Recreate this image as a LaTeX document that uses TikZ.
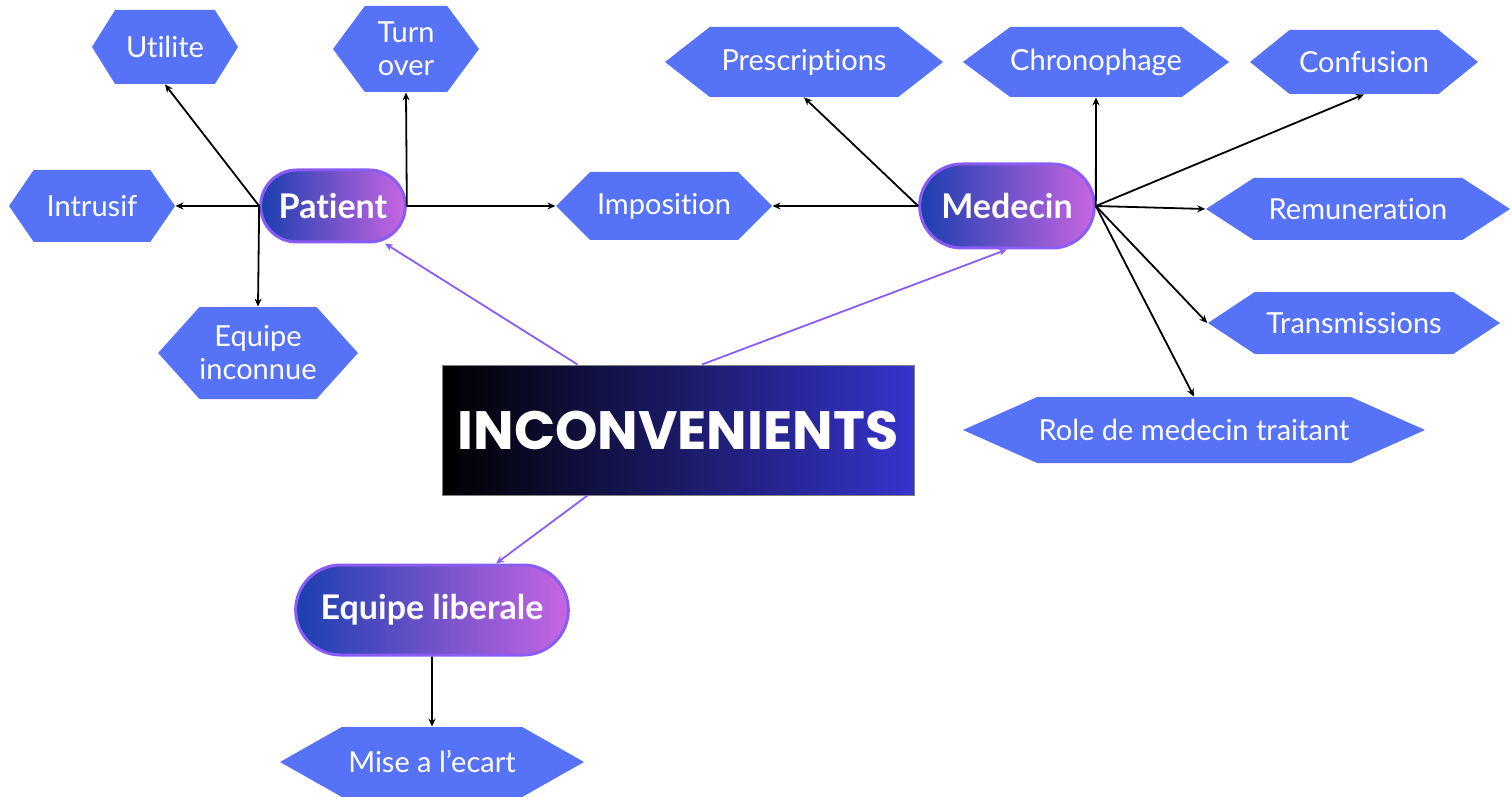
\documentclass[tikz,border=0pt]{standalone}
\usepackage{fontspec}
\setmainfont{Lato}[Ligatures=NoCommon]
\newfontfamily\titlefont{Poppins}
\usepackage{tikz}
\usetikzlibrary {arrows.meta,
                 positioning,
                 shapes.geometric,
                 shapes.misc,
                 shapes.symbols}
\definecolor{hexblue}{HTML}{5672F6}
\definecolor{pillleft}{HTML}{1A3FB0}
\definecolor{pillright}{HTML}{C765E2}
\definecolor{pillborder}{HTML}{8A5CF6}
\definecolor{boxright}{HTML}{3634CC}
\tikzset{
        hexa/.style={signal, signal to=west and east, fill=hexblue,
                     text=white, inner sep=0pt, align=center,
                     font=\fontsize{14.5}{16.5}\selectfont},
        pill/.style={rounded rectangle, draw=pillborder, line width=1.5pt,
                     left color=pillleft, right color=pillright,
                     text=white, font=\fontsize{17}{19}\selectfont\bfseries},
        myarrow/.style={-{Stealth[length=4pt,width=3.5pt]}, line width=0.9pt},
        purplearrow/.style={myarrow, draw=pillborder},
 }

\begin{document}
\begin{tikzpicture}[x=0.5pt,y=-0.5pt]
    \useasboundingbox (0,0) rectangle (1512,797);

    % centre
    \node[draw=gray, line width=0.5pt, left color=black, right color=boxright,
          text=white, minimum width=236pt, minimum height=65pt,
          font=\titlefont\fontsize{27}{30}\selectfont\bfseries]
         (main) at (678,430) {INCONVENIENTS};

    % pills
    \node[pill, minimum width=79pt, minimum height=36pt] (patient) at (333,206) {Patient};
    \node[pill, minimum width=94pt, minimum height=42pt] (medecin) at (1007,206) {Medecin};
    \node[pill, minimum width=143pt, minimum height=45pt] (liberale) at (432,610) {Equipe liberale};

    % patient side
    \node[hexa, signal pointer angle=116, minimum width=73pt, minimum height=37pt]
         (utilite) at (165,47) {Utilite};
    \node[hexa, signal pointer angle=107, minimum width=73pt, minimum height=43pt]
         (turnover) at (406,49) {Turn\\over};
    \node[hexa, signal pointer angle=111, minimum width=83pt, minimum height=36pt]
         (intrusif) at (92,206) {Intrusif};
    \node[hexa, signal pointer angle=96, minimum width=93pt, minimum height=46pt]
         (inconnue) at (258,353) {Equipe\\inconnue};
    \node[hexa, signal pointer angle=90, minimum width=108pt, minimum height=34pt]
         (imposition) at (664,206) {Imposition};

    % medecin side
    \node[hexa, signal pointer angle=76, minimum width=139pt, minimum height=35pt]
         (prescriptions) at (804,62) {Prescriptions};
    \node[hexa, signal pointer angle=73, minimum width=133pt, minimum height=35pt]
         (chrono) at (1096,62) {Chronophage};
    \node[hexa, signal pointer angle=78, minimum width=114pt, minimum height=32pt]
         (confusion) at (1364,62) {Confusion};
    \node[hexa, signal pointer angle=66, minimum width=152pt, minimum height=31pt]
         (remun) at (1358,209) {Remuneration};
    \node[hexa, signal pointer angle=67, minimum width=146pt, minimum height=31pt]
         (transm) at (1354,323) {Transmissions};
    \node[hexa, signal pointer angle=48, minimum width=231pt, minimum height=33pt]
         (role) at (1194,430) {Role de medecin traitant};

    % equipe liberale
    \node[hexa, signal pointer angle=59, minimum width=152pt, minimum height=35pt]
         (ecart) at (432,762) {Mise a l’ecart};

    \draw[purplearrow] ([xshift=68pt]main.north west) -- ([xshift=26pt]patient.south);
    \draw[purplearrow] ([xshift=12pt]main.north) -- (medecin.south);
    \draw[purplearrow] ([xshift=73pt]main.south west) -- ([xshift=32pt]liberale.north);

    \draw[myarrow] (patient.west) -- (intrusif.east);
    \draw[myarrow] (patient.west) -- (utilite.south);
    \draw[myarrow] (patient.west) -- (inconnue.north);
    \draw[myarrow] (patient.east) -- (turnover.south);
    \draw[myarrow] (patient.east) -- (imposition.west);

    \draw[myarrow] (medecin.west) -- (imposition.east);
    \draw[myarrow] (medecin.west) -- (prescriptions.south);
    \draw[myarrow] (medecin.east) -- (chrono.south);
    \draw[myarrow] (medecin.east) -- (confusion.south);
    \draw[myarrow] (medecin.east) -- (remun.west);
    \draw[myarrow] (medecin.east) -- (transm.west);
    \draw[myarrow] (medecin.east) -- (role.north);

    \draw[myarrow] (liberale) -- (ecart);

\end{tikzpicture}
\end{document}
